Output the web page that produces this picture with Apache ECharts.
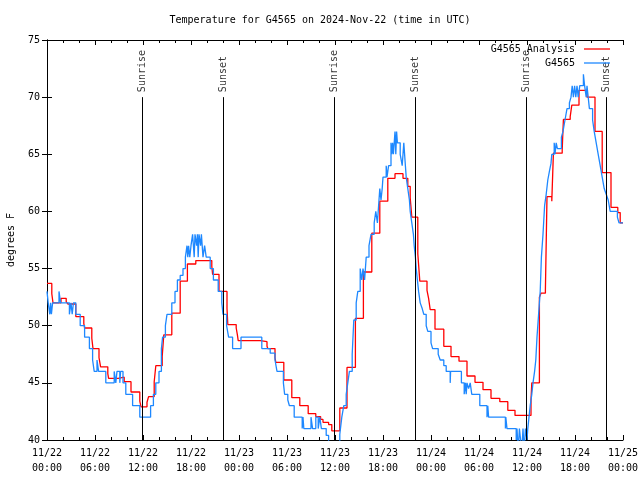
<!DOCTYPE html>
<html>
<head>
<meta charset="utf-8">
<script src="https://cdn.jsdelivr.net/npm/echarts@6/dist/echarts.min.js"></script>
<style>html,body{margin:0;padding:0;background:#fff}#chart{width:640px;height:480px}</style>
</head>
<body>
<div id="chart"></div>
<script>
// ---- data (time in hours since 11/22 00:00 UTC) ----
const titleText = 'Temperature for G4565 on 2024-Nov-22 (time in UTC)';
const yAxisName = 'degrees F';
const xTickLabels = ['11/22\n00:00','11/22\n06:00','11/22\n12:00','11/22\n18:00','11/23\n00:00','11/23\n06:00','11/23\n12:00','11/23\n18:00','11/24\n00:00','11/24\n06:00','11/24\n12:00','11/24\n18:00','11/25\n00:00'];
const seriesNames = ['G4565 Analysis', 'G4565'];

const redHours = [0,0.6,0.75,1.75,2.4,2.6,3.6,4.6,4.7,5.6,5.75,6.5,6.7,7.6,7.7,8.9,9.65,10.5,11.6,11.75,12.5,12.7,13.4,13.6,14.4,14.6,15.6,16.65,17.55,18.6,20.6,20.7,21.5,22.5,22.6,23.65,23.8,23.9,26.65,27.5,27.6,28.5,28.6,29.6,30.6,31.6,32.65,33.6,34.2,34.5,35.2,35.6,36.6,37.5,38.55,39.55,40.6,41.6,42.6,43.5,44.5,45.1,45.4,45.6,46.35,46.6,47.5,47.7,47.9,48.5,49.6,50.5,51.5,52.5,53.5,54.5,55.5,56.6,57.6,58.5,60.5,60.6,61.55,61.75,62.3,62.5,63.1,63.3,64.4,64.55,65.4,65.6,66.5,67.5,68.5,69.4,70.5,71.35,71.65,72];
const redTemps = [53.7,52.8,52.0,52.4,52.1,51.9,50.8,50.2,49.8,48.9,48.0,47.2,46.4,45.8,45.4,45.5,45.1,44.2,43.4,42.9,43.3,43.8,45.1,46.5,47.3,49.2,51.1,53.9,55.4,55.7,55.2,54.5,53.0,51.5,50.1,49.8,49.2,48.7,48.6,48.2,48.0,47.2,46.8,45.25,43.7,43.0,42.3,42.05,41.8,41.55,41.35,40.8,42.8,46.35,50.65,54.7,58.1,60.9,62.9,63.3,62.9,62.2,61.2,59.5,56.3,53.9,53.1,52.4,51.4,49.7,48.2,47.3,46.9,45.6,45.05,44.4,43.65,43.35,42.6,42.15,43.5,45.0,52.5,52.85,53.1,61.3,60.9,65.1,65.4,68.05,68.3,69.3,70.6,70.0,67.0,63.4,60.35,59.9,59.0,59.0];

const blueHours = [0,0.15,0.35,0.45,0.55,0.7,1.5,1.7,2.8,3.0,3.15,3.3,3.6,4.15,4.7,5.3,5.7,5.9,6.25,6.45,7.35,8.4,8.6,8.75,9.1,9.2,9.5,9.85,10.7,11.6,12.95,13.3,13.6,14.0,14.15,14.3,14.45,14.8,15.0,15.6,16.0,16.3,16.65,17.0,17.3,17.5,17.6,17.7,17.85,18.0,18.2,18.3,18.4,18.5,18.7,18.8,18.9,19.0,19.2,19.3,19.5,19.7,19.9,20.4,20.8,21.4,21.85,22.0,22.45,22.7,23.2,24.25,26.85,27.9,28.5,28.75,29.55,29.7,30.1,30.3,30.9,31.9,32.0,32.1,33.0,33.2,33.6,33.9,34.1,34.3,34.9,35.2,36.6,36.85,37.1,37.4,37.6,37.8,38.15,38.35,38.65,38.85,39.15,39.35,39.5,39.7,39.9,40.25,40.5,40.9,41.1,41.3,41.4,41.6,41.75,41.9,42.0,42.4,42.5,42.7,43.0,43.1,43.2,43.3,43.5,43.6,43.7,43.8,44.15,44.4,44.6,44.8,44.9,45.1,45.3,45.4,45.6,45.8,45.9,46.05,46.15,46.3,46.45,46.65,46.9,47.1,47.4,47.6,48.0,48.2,48.9,49.15,49.6,49.9,50.4,50.45,51.8,52.15,52.3,52.4,52.5,52.7,52.9,53.1,54.1,55.0,55.1,55.2,57.3,57.35,57.5,58.65,58.75,58.9,59.05,59.2,59.35,59.5,59.65,59.8,60.0,60.1,60.25,60.4,60.6,60.75,60.95,61.1,61.25,61.45,61.65,61.8,62.0,62.2,62.4,62.6,62.8,63.0,63.1,63.4,63.5,63.65,63.8,64.3,64.5,64.75,65.0,65.3,65.5,65.65,65.8,65.95,66.1,66.25,66.4,66.6,67.05,67.2,67.4,67.5,67.65,67.8,68.2,68.4,68.65,68.9,69.15,69.4,69.65,69.9,70.15,70.4,71.3,71.5,72];
const blueTemps = [53,52,51,52,51,52,53,52,51,52,51,52,51,50,49,48,47,46,47,46,45,46,45,46,45,46,45,44,43,42,43,44,45,46,46,48,49,50,51,52,53,54,54.4,55,56,57,56,57,56,57,58,57,56,58,57,58,56,58,57,58,56,57,56,55,54,53,52,51,50,49,48,49,48,47.6,47,46,45,44,43.5,43,42,41,42,41,42,41,42,41,42,41,40.4,39,40.5,42,43,44,45,46,47.5,50.5,52,53,55,54,55,54,56,57,58,59,60,59,60,62,61,62,63,64,63,64,66,65,66,65,67,65,67,66,65,64,66,64,63,62,61,60,59,58,57,56,55,54,53,52,51.5,51,50,49.5,48.5,48,47.5,47,46.5,46,45,46,45,44,45,44,45,44.5,45,44,43,42,43,42,41,42,41,40,41,39,41,40,39,41,39,41,40,41,42,43,44,45,46,47,49,51,53,56,58,60.5,61.5,62.75,63.5,64.2,65,66,65,66,65.5,66.5,67,68,69,69.5,70,71,70,71,70,71,70,71,72,71,70,71,70,69,68,67,66,65,64,63,62,61.5,61,60,59.5,59,59];

const sunHours = [11.875, 22.0, 35.875, 46.0, 59.875, 69.875];
const sunNames = ['Sunrise','Sunset','Sunrise','Sunset','Sunrise','Sunset'];
const sunLineTop = 70;

const yMin = 40, yMax = 75, yStep = 5;
const xMin = 0, xMax = 72, xStep = 6;

// ---- build ----
const font = 'DejaVu Sans Mono';
const zip = (a, b) => a.map((v, i) => [v, b[i]]);
const redData = zip(redHours, redTemps);
const blueData = zip(blueHours, blueTemps);
const sunPoints = sunHours.map((h, i) => ({ value: [h, sunLineTop], name: sunNames[i] }));
const sunLines = sunHours.map(h => [{ coord: [h, sunLineTop] }, { coord: [h, yMin] }]);
const red = '#ff0000', blue = '#1e88ff';

const axisLine = { show: true, lineStyle: { color: '#000', width: 1 } };
const legendBase = { right: 30, orient: 'vertical', align: 'right', icon: 'rect', itemWidth: 26, itemHeight: 1.3, padding: 0,
  textStyle: { fontFamily: font, fontSize: 10, color: '#000', padding: [0, 4, 0, 0] } };
const chart = echarts.init(document.getElementById('chart'), null, { renderer: 'canvas' });
chart.setOption({
  animation: false,
  backgroundColor: '#fff',
  textStyle: { fontFamily: font },
  title: {
    text: titleText, left: 'center', top: 10,
    textStyle: { fontFamily: font, fontSize: 10, fontWeight: 'normal', color: '#000' }
  },
  legend: [
    Object.assign({}, legendBase, { data: [seriesNames[0]], top: 44 }),
    Object.assign({}, legendBase, { data: [seriesNames[1]], top: 58 })
  ],
  grid: { left: 47, right: 17, top: 40, bottom: 40, show: false, containLabel: false, outerBoundsMode: 'none' },
  xAxis: [
    { type: 'value', min: xMin, max: xMax, interval: xStep, position: 'bottom',
      axisLine, splitLine: { show: false },
      axisTick: { inside: true, length: 5, lineStyle: { color: '#000' } },
      minorTick: { show: true, splitNumber: 3, length: 3, lineStyle: { color: '#000' } },
      axisLabel: { margin: 6, color: '#000', fontFamily: font, fontSize: 10, lineHeight: 15,
        formatter: v => xTickLabels[Math.round(v / xStep)] } },
    { type: 'value', min: xMin, max: xMax, interval: xStep, position: 'top',
      axisLine, splitLine: { show: false },
      axisTick: { inside: true, length: 5, lineStyle: { color: '#000' } },
      minorTick: { show: true, splitNumber: 3, length: 3, lineStyle: { color: '#000' } },
      axisLabel: { show: false } }
  ],
  yAxis: [
    { type: 'value', min: yMin, max: yMax, interval: yStep, position: 'left',
      name: yAxisName, nameLocation: 'middle', nameRotate: 90, nameGap: 31,
      nameTextStyle: { fontFamily: font, fontSize: 10, color: '#000' },
      axisLine, splitLine: { show: false },
      axisTick: { inside: true, length: 5, lineStyle: { color: '#000' } },
      axisLabel: { margin: 7, color: '#000', fontFamily: font, fontSize: 10 } },
    { type: 'value', min: yMin, max: yMax, interval: yStep, position: 'right',
      axisLine, splitLine: { show: false },
      axisTick: { inside: true, length: 5, lineStyle: { color: '#000' } },
      axisLabel: { show: false } }
  ],
  series: [
    { type: 'scatter', name: 'sun', data: sunPoints, symbolSize: 0, silent: true,
      label: { show: true, formatter: p => p.name, position: 'inside', rotate: 90, align: 'left', verticalAlign: 'middle',
        offset: [5, 0], color: '#000', fontFamily: font, fontSize: 10 },
      markLine: { silent: true, symbol: 'none', label: { show: false },
        lineStyle: { color: '#000', width: 1, type: 'solid' }, data: sunLines } },
    { type: 'line', name: seriesNames[0], data: redData, step: 'end', symbol: 'none', showSymbol: false,
      lineStyle: { color: red, width: 1.3 }, itemStyle: { color: red }, clip: true },
    { type: 'line', name: seriesNames[1], data: blueData, step: 'end', symbol: 'none', showSymbol: false,
      lineStyle: { color: blue, width: 1.3 }, itemStyle: { color: blue }, clip: true }
  ]
});
</script>
</body>
</html>
